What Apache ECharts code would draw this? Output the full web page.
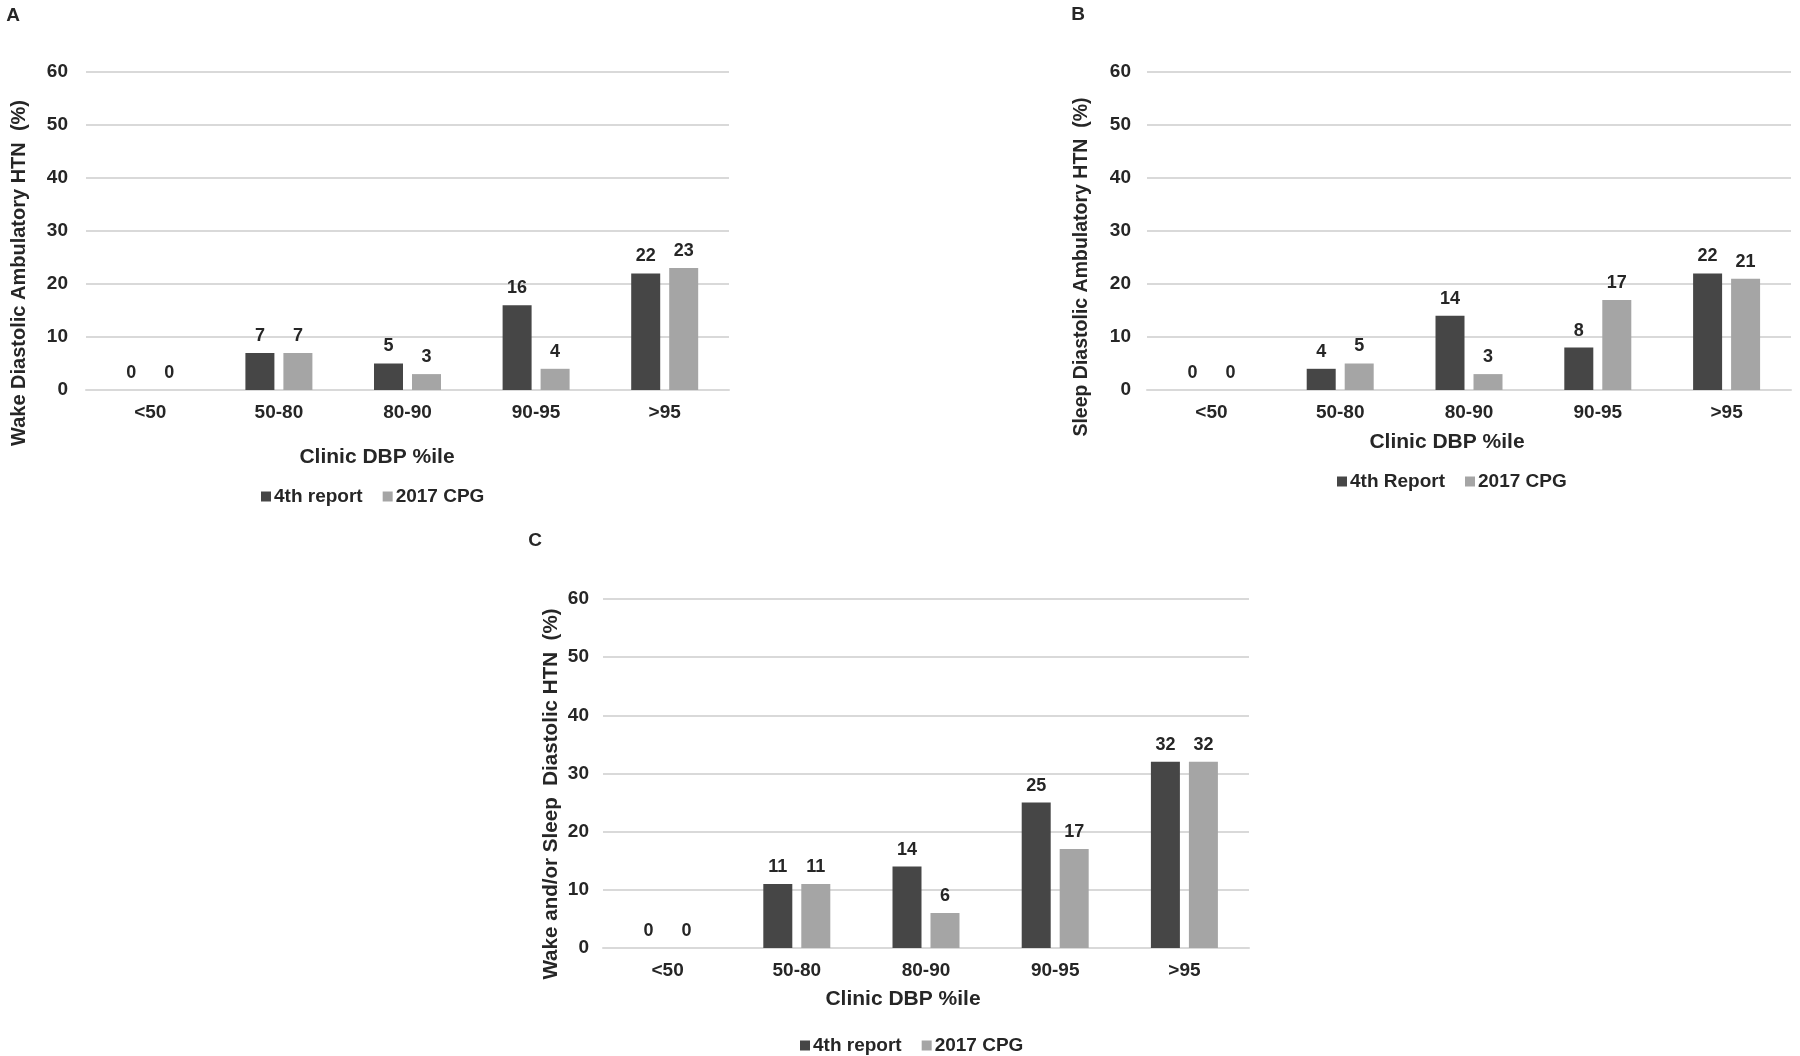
<!DOCTYPE html>
<html>
<head>
<meta charset="utf-8">
<script src="https://cdn.jsdelivr.net/npm/echarts@6/dist/echarts.min.js"></script>
<style>
html,body{margin:0;padding:0;background:#fff;}
#chart{width:1800px;height:1056px;}
</style>
</head>
<body>
<div id="chart"></div>
<script>
// ---- data ----
const categories = ['<50', '50-80', '80-90', '90-95', '>95'];
const yTickValues = [0, 10, 20, 30, 40, 50, 60];
const wake4th = [0, 7, 5, 16, 22];
const wakeCPG = [0, 7, 3, 4, 23];
const sleep4th = [0, 4, 14, 8, 22];
const sleepCPG = [0, 5, 3, 17, 21];
const both4th = [0, 11, 14, 25, 32];
const bothCPG = [0, 11, 6, 17, 32];
const panelLetters = ['A', 'B', 'C'];
const yTitles = ['Wake Diastolic Ambulatory HTN  (%)', 'Sleep Diastolic Ambulatory HTN  (%)', 'Wake and/or Sleep  Diastolic HTN  (%)'];
const xTitle = 'Clinic DBP %ile';
const legendA = ['4th report', '2017 CPG'];
const legendB = ['4th Report', '2017 CPG'];
const legendC = ['4th report', '2017 CPG'];

const FONT = "'Liberation Sans', Arial, Helvetica, sans-serif";
const TXT = '#262626';
const DARK = '#464646';
const LIGHT = '#a5a5a5';
const GRID = '#d9d9d9';

const grids = [
  {left: 86, top: 72, width: 643, height: 318},
  {left: 1147, top: 72, width: 644, height: 318},
  {left: 603, top: 599, width: 646, height: 349}
];
const yMargins = [18, 16, 14];

function xAxisFor(i) {
  return {
    type: 'category', gridIndex: i, data: categories,
    axisLine: {show: true, lineStyle: {color: GRID, width: 2}},
    axisTick: {show: false},
    axisLabel: {color: TXT, fontFamily: FONT, fontWeight: 'bold', fontSize: 19, margin: 13}
  };
}
function yAxisFor(i) {
  return {
    type: 'value', gridIndex: i,
    min: yTickValues[0], max: yTickValues[yTickValues.length - 1], interval: yTickValues[1] - yTickValues[0],
    axisLine: {show: false}, axisTick: {show: false},
    splitLine: {show: true, lineStyle: {color: GRID, width: 2}},
    axisLabel: {color: TXT, fontFamily: FONT, fontWeight: 'bold', fontSize: 19, margin: yMargins[i]}
  };
}
function barSeries(name, data, i, dark) {
  return {
    type: 'bar', name: name, data: data, xAxisIndex: i, yAxisIndex: i,
    barWidth: 29, barGap: '31%',
    itemStyle: {color: dark ? DARK : LIGHT, borderWidth: 0},
    label: {show: true, position: 'top', distance: 8, color: TXT, fontFamily: FONT, fontWeight: 'bold', fontSize: 18},
    emphasis: {disabled: true},
    animation: false
  };
}
function legendFor(names, left, top) {
  return {
    data: names.map((n) => ({name: n, icon: 'rect'})),
    left: left, top: top, padding: 0,
    itemWidth: 10, itemHeight: 10, itemGap: 20,
    selectedMode: false,
    textStyle: {color: TXT, fontFamily: FONT, fontWeight: 'bold', fontSize: 19, padding: [0, 0, 0, -2]}
  };
}
function gText(text, x, y, size, rot) {
  return {
    type: 'text', x: x, y: y, rotation: rot || 0,
    style: {text: text, font: 'bold ' + size + 'px ' + FONT, fill: TXT,
      align: 'center', verticalAlign: 'middle', textAlign: 'center', textVerticalAlign: 'middle'}
  };
}

const option = {
  backgroundColor: '#ffffff',
  animation: false,
  grid: grids,
  xAxis: [xAxisFor(0), xAxisFor(1), xAxisFor(2)],
  yAxis: [yAxisFor(0), yAxisFor(1), yAxisFor(2)],
  legend: [
    legendFor(legendA, 261, 487),
    legendFor(legendB, 1337, 472),
    legendFor(legendC, 800, 1036)
  ],
  series: [
    barSeries(legendA[0], wake4th, 0, true),
    barSeries(legendA[1], wakeCPG, 0, false),
    barSeries(legendB[0], sleep4th, 1, true),
    barSeries(legendB[1], sleepCPG, 1, false),
    barSeries(legendC[0], both4th, 2, true),
    barSeries(legendC[1], bothCPG, 2, false)
  ],
  graphic: [
    gText(panelLetters[0], 13, 16, 19),
    gText(panelLetters[1], 1078, 15, 19),
    gText(panelLetters[2], 535, 541, 19),
    gText(yTitles[0], 19, 273, 20, Math.PI / 2),
    gText(yTitles[1], 1082, 267, 19.5, Math.PI / 2),
    gText(yTitles[2], 551, 794, 20.6, Math.PI / 2),
    gText(xTitle, 377, 457, 21),
    gText(xTitle, 1447, 442, 21),
    gText(xTitle, 903, 999, 21)
  ]
};

const chart = echarts.init(document.getElementById('chart'), null, {renderer: 'canvas'});
chart.setOption(option);
</script>
</body>
</html>
